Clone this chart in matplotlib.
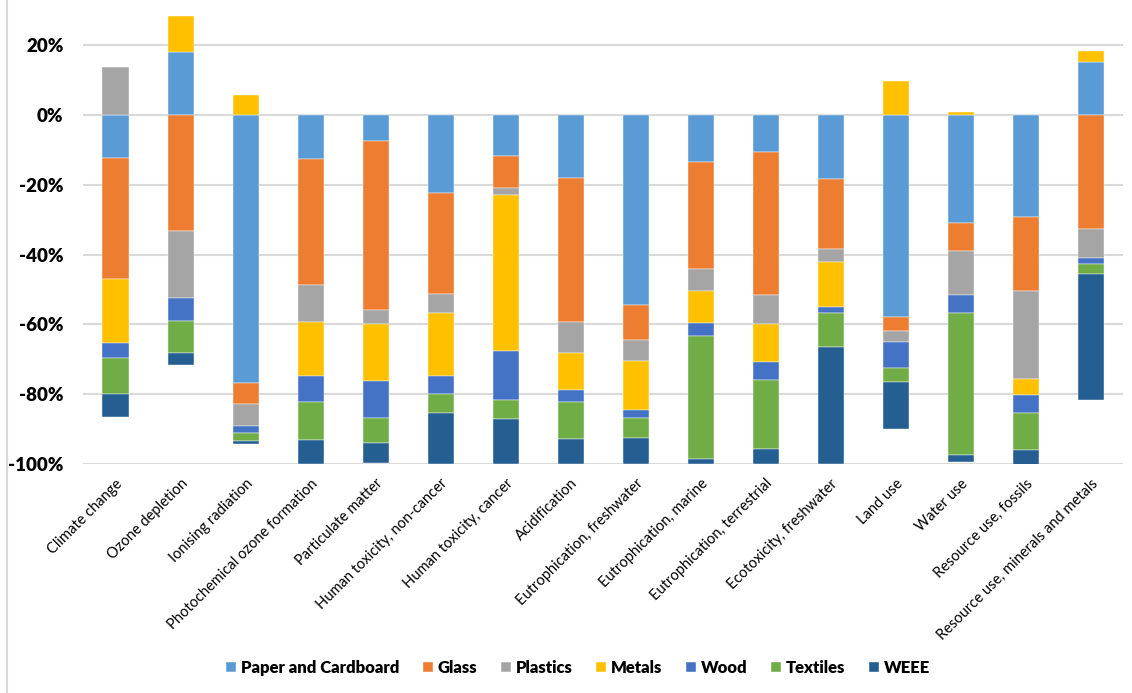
import matplotlib
matplotlib.use("Agg")
import matplotlib.pyplot as plt
import numpy as np
from matplotlib.lines import Line2D

plt.rcParams["font.family"] = ["Lato", "DejaVu Sans"]

# impact categories
categories = [
    "Climate change",
    "Ozone depletion",
    "Ionising radiation",
    "Photochemical ozone formation",
    "Particulate matter",
    "Human toxicity, non-cancer",
    "Human toxicity, cancer",
    "Acidification",
    "Eutrophication, freshwater",
    "Eutrophication, marine",
    "Eutrophication, terrestrial",
    "Ecotoxicity, freshwater",
    "Land use",
    "Water use",
    "Resource use, fossils",
    "Resource use, minerals and metals",
]

# contribution of each waste fraction (%)
paper = [-12.2, 18.1, -76.9, -12.7, -7.5, -22.4, -11.6, -17.9, -54.4, -13.4, -10.5, -18.4, -57.9, -31.0, -29.2, 15.3]
glass = [-34.9, -33.2, -5.9, -36.0, -48.5, -28.8, -9.2, -41.5, -10.0, -30.8, -41.1, -20.0, -4.0, -8.0, -21.3, -32.5]
plastics = [13.8, -19.1, -6.3, -10.7, -3.9, -5.5, -2.2, -8.8, -6.2, -6.2, -8.4, -3.6, -3.2, -12.5, -25.0, -8.4]
metals = [-18.3, 10.3, 5.7, -15.4, -16.2, -18.2, -44.5, -10.6, -13.8, -9.3, -10.7, -12.9, 9.7, 0.9, -4.8, 3.2]
wood = [-4.1, -6.7, -2.1, -7.4, -10.6, -4.9, -14.2, -3.4, -2.4, -3.6, -5.1, -1.8, -7.4, -5.2, -5.2, -1.9]
textiles = [-10.4, -9.1, -2.2, -11.0, -7.4, -5.5, -5.5, -10.6, -5.8, -35.3, -20.0, -9.8, -4.0, -40.7, -10.5, -2.6]
weee = [-6.5, -3.6, -0.9, -6.9, -5.7, -14.6, -12.8, -7.3, -7.3, -1.3, -4.3, -33.4, -13.5, -1.9, -4.3, -36.3]

series_names = ["Paper and Cardboard", "Glass", "Plastics", "Metals", "Wood", "Textiles", "WEEE"]
series_values = [paper, glass, plastics, metals, wood, textiles, weee]
colors = ["#5B9BD5", "#ED7D31", "#A5A5A5", "#FFC000", "#4472C4", "#70AD47", "#255E91"]

y_ticks = [20, 0, -20, -40, -60, -80, -100]

fig = plt.figure(figsize=(11.32, 6.93), dpi=100)
ax = fig.add_axes([83 / 1132, 1 - 464 / 693, (1123 - 83) / 1132, 464 / 693])

x = np.arange(len(categories))
pos_base = np.zeros(len(categories))
neg_base = np.zeros(len(categories))

# stack positives upward and negatives downward
for name, vals, col in zip(series_names, series_values, colors):
    vals = np.array(vals)
    bottoms = np.where(vals >= 0, pos_base, neg_base)
    ax.bar(x, vals, width=0.4, bottom=bottoms, color=col, label=name,
           edgecolor="white", linewidth=0.3, zorder=3)
    pos_base += np.where(vals >= 0, vals, 0)
    neg_base += np.where(vals < 0, vals, 0)

ax.set_xlim(-0.5, len(categories) - 0.5)
ax.set_ylim(-100, 33)
ax.set_yticks(y_ticks)
ax.set_yticklabels([f"{v}%" for v in y_ticks], fontsize=13.5, fontweight="heavy")
ax.tick_params(axis="y", length=0, pad=14)
ax.tick_params(axis="x", length=0, pad=9)
ax.set_xticks(x)
ax.set_xticklabels(categories, rotation=45, ha="right", rotation_mode="anchor", fontsize=10.5)

ax.grid(axis="y", color="#D9D9D9", linewidth=1.5, zorder=0)
for s in ax.spines.values():
    s.set_visible(False)

# frame line on the left edge of the chart area
fig.add_artist(Line2D([7 / 1132, 7 / 1132], [0, 1], color="#D9D9D9", linewidth=1.5))

leg = fig.legend(loc="center", bbox_to_anchor=(578 / 1132, 1 - 668 / 693), ncol=7,
                 frameon=False, handlelength=0.6, handleheight=0.6, handletextpad=0.3,
                 columnspacing=1.4, prop={"size": 12, "weight": "heavy"})

fig.savefig("out.png", dpi=100)
